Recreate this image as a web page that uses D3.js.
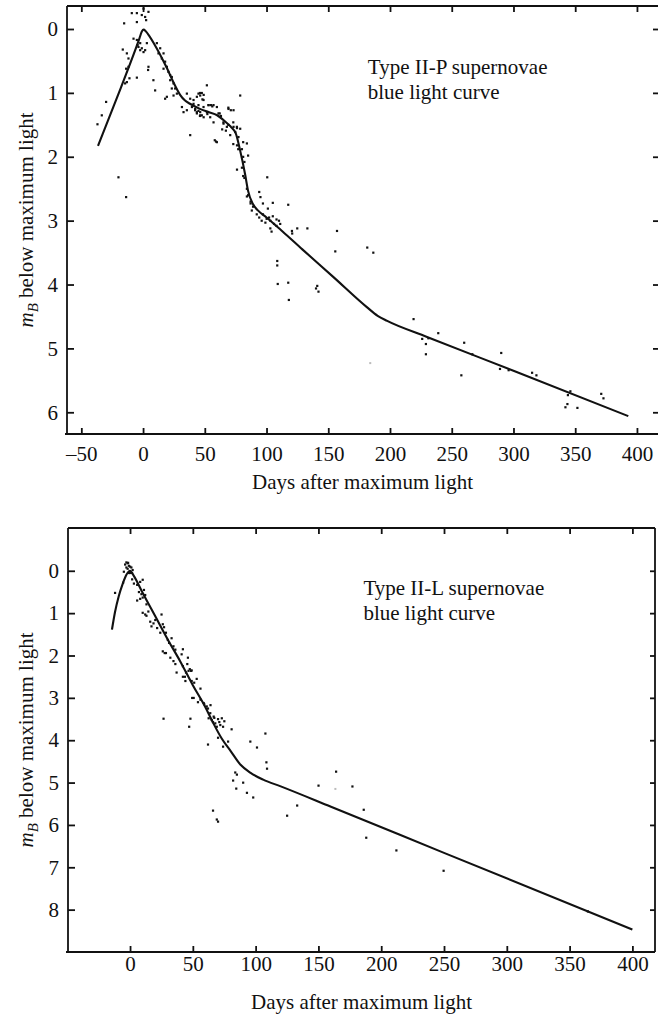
<!DOCTYPE html>
<html><head><meta charset="utf-8">
<script src="https://cdn.jsdelivr.net/npm/d3@7"></script>
<style>
body{margin:0;background:#fff;}
svg{display:block;font-family:"Liberation Serif","Times New Roman",serif;}
</style></head><body>
<svg id="c" width="658" height="1017"></svg>
<script>
// ---------- DATA ----------
const xTicksP = [-50,0,50,100,150,200,250,300,350,400];
const xTickLabelsP = ["–50","0","50","100","150","200","250","300","350","400"];
const yTicksP = [0,1,2,3,4,5,6];
const xTicksL = [0,50,100,150,200,250,300,350,400];
const xTickLabelsL = ["0","50","100","150","200","250","300","350","400"];
const yTicksL = [0,1,2,3,4,5,6,7,8];

const labelP = ["Type II-P supernovae","blue light curve"];
const labelL = ["Type II-L supernovae","blue light curve"];
const xTitle = "Days after maximum light";

// mean light curve, Type II-P: [days, mag below max]
const curveP = [[-36.5,1.83],[-18,0.92],[-6,0.31],[-3,0.15],[-1,0.04],[0.5,0.01],[2,0.03],[4,0.08],[11,0.3],[19,0.6],[24.5,0.83],[30,1.03],[34,1.12],[38,1.17],[46,1.25],[53,1.3],[60,1.35],[66,1.44],[70.5,1.52],[73,1.57],[75,1.63],[78.6,1.9],[82.6,2.27],[85,2.53],[89,2.74],[93,2.84],[100,2.95],[113,3.17],[129,3.45],[154,3.88],[181,4.35],[190,4.49],[197.7,4.57],[230,4.82],[300,5.35],[393,6.06]];

// observations, Type II-P
const obsP = [[-9.2,-0.25],[-5.1,-0.25],[-1.1,-0.22],[1.6,-0.19],[4.3,-0.27],[-5.1,-0.11],[0.3,-0.32],[2.4,-0.14],[-15.4,-0.09],[-16.5,0.32],[-13.2,0.38],[-11.9,0.46],
[-7.8,0.15],[-5.1,0.17],[-3.8,0.28],[-2.4,0.33],[-1.1,0.3],[0.3,0.36],[1.6,0.33],[3,0.22],[-2.4,0.22],[-4.5,0.25],[-13.8,0.62],[-11.9,0.59],[-11.1,0.77],[-13.2,0.83],[-14.6,0.85],[-5.1,0.76],[4.3,0.59],[4,0.64],[8.3,0.8],[9.7,0.96],[-30,1.14],[-33.5,1.35],[-37,1.49],[-20,2.32],[-13.8,2.63],
[11.1,0.22],[13.8,0.3],[12.4,0.38],[15.1,0.46],[16.5,0.38],[17.8,0.51],[19.2,0.59],[16.5,0.62],[20.5,0.67],[21.9,0.72],[23.2,0.75],[21.9,0.8],[24.6,0.85],[23.2,0.93],[25.9,0.93],[27.3,1.01],[24.6,1.04],[17.8,1.09],[19.2,1.06],
[35.4,1.01],[38.1,1.09],[40.8,1.11],[43.5,1.06],[46.2,1.04],[48.9,1.11],[51.6,0.88],[44.8,1.01],[47.5,1.0],[31.4,1.22],[32.7,1.3],[35.4,1.27],[39.5,1.22],[42.1,1.27],[43.5,1.32],[46.2,1.3],[47.5,1.35],[44.8,1.19],[40.8,1.17],[48.9,1.22],[52.9,1.19],[57,1.19],[59.7,1.22],[51.6,1.3],[54.3,1.38],[57,1.46],[61,1.32],[65.1,1.48],[67.8,1.53],[69.1,1.25],[73.2,1.27],[78.6,1.04],[73.2,1.53],[74.6,1.61],[70.5,1.66],[75.9,1.53],[78.6,1.56],[77.2,1.69],[38.1,1.66],[59.7,1.77],[42.1,1.25],[44.8,1.28],[46.2,1.35],[43.5,1.3],
[46,1.0],[48,1.1],[49,1.03],[53,1.19],[55,1.19],[56,1.21],[46,1.36],[49,1.38],[52,1.33],[62,1.32],[63,1.36],[69,1.23],[71,1.27],[65,1.46],[67,1.59],[64,1.57],[69,1.5],[73,1.46],[76,1.55],[58,1.74],[59,1.76],
[73,1.8],[76,1.82],[77,1.88],[81,1.77],[84,1.79],[80,1.88],[81,2.0],[82,2.08],[85,1.98],[76,2.2],[80,2.17],[81,2.3],[82,2.33],[100.5,2.32],[84,2.5],[85,2.6],[84,2.62],[87,2.7],[94,2.55],[95,2.63],[97,2.73],[87,2.73],[89,2.78],[88,2.84],[105,2.72],[117.5,2.75],[101,2.81],
[92,2.9],[94,2.95],[97,2.9],[100,2.97],[102,2.95],[105,2.93],[96,3.0],[99,3.03],[103,3.0],[108,2.98],[110,3.0],[111,3.05],[106,3.05],[108,3.08],[104,3.17],[103,3.12],[120.7,3.2],[124.8,3.12],[133,3.12],[120.5,3.16],
[108.6,3.63],[108.6,3.7],[109,3.99],[117.5,3.97],[118,4.24],[141,4.02],[142,4.11],[140,4.06],[157,3.16],[155.6,3.48],[181.5,3.42],[186.4,3.5],
[219,4.54],[226,4.85],[229,4.93],[229,5.09],[231,4.84],[239,4.76],[260,4.91],[257.7,5.42],[266.6,5.09],[290,5.07],[289,5.32],[296,5.34],[315,5.38],[318.5,5.42],[346,5.67],[344,5.73],[343.6,5.87],[342,5.92],[351.7,5.93],[371,5.71],[372.8,5.78]];

// mean light curve, Type II-L
const curveL = [[-14.4,1.39],[-12,0.98],[-9,0.6],[-6,0.32],[-3,0.1],[0,0],[3,0.12],[10,0.52],[20,1.07],[30,1.62],[40,2.14],[50,2.7],[60,3.22],[66,3.58],[73,3.96],[80,4.25],[88,4.58],[96,4.77],[106,4.93],[120,5.09],[160,5.57],[250,6.66],[400,8.47]];

// observations, Type II-L
const obsL = [[-4,-0.15],[-3,-0.2],[-2,-0.18],[-1,-0.12],[0,-0.1],[1,-0.08],[-3,-0.08],[-2,-0.05],[0,0.02],[1.5,0.05],[-1,0.05],[-5,0.02],[2,-0.02],[-1.6,-0.19],[0,0.05],
[-12,0.52],[-5.6,0.28],[1.6,0.2],[3,0.3],[5.6,0.33],[8,0.26],[10,0.21],[11,0.45],[12,0.57],[9,0.55],[7,0.5],[5.6,0.7],[8,0.66],[10,0.63],[13,0.79],[10,0.99],[13,1.06],[12,1.03],[14.5,0.96],
[16,1.2],[18.6,1.24],[17,1.31],[20,1.16],[21.5,1.35],[25,1.03],[26,1.26],[27,1.33],[28.5,1.46],[24,1.46],[30,1.63],[31,1.7],[33,1.59],[34.5,1.78],[36,1.86],[26,1.9],[27.5,1.94],[28.5,1.94],
[32,2.05],[34.5,2.13],[36,2.2],[37,2.4],[41,1.97],[42,2.25],[43.6,2.5],[44.5,2.4],[45.5,2.2],[46.5,2.36],[47.5,2.32],[48.5,2.36],[51,2.64],[42,1.85],[46,2.05],[49,2.35],[42,2.5],[44,2.6],[49,2.6],[53,2.55],
[49.4,3.0],[50.6,3.0],[56,2.78],[56,3.04],[58.6,3.12],[61,3.2],[63.8,3.36],[66.5,3.44],[62.5,3.48],[65,3.52],[67.8,3.6],[69,3.68],[71.8,3.64],[74,3.68],[80.8,3.74],[54,3.1],[59,3.15],[64,3.17],[62,3.25],[67,3.47],[70,3.5],[71,3.57],[73,3.48],[75,3.55],[66,3.57],
[26.6,3.49],[48,3.49],[47,3.68],[70,3.94],[62,4.1],[74,4.15],[78,4.03],[95.7,4.03],[101,4.17],[107.7,3.84],[108.5,4.52],[109,4.67],
[83.7,4.76],[85,4.81],[82,4.95],[84.5,5.14],[90,5.0],[93,5.24],[98,5.35],[66,5.66],[69,5.87],[70,5.92],[125,5.78],[133,5.54],[150,5.07],[164,4.74],[177,5.09],[186,5.64],[188,6.3],[212,6.6],[249.6,7.08],[364.5,8.04]];

// very faint marks
const faintP = [[184,5.23]];
const faintL = [[163.5,5.15]];

// ---------- DRAW ----------
const svg = d3.select("#c");

function yTitle(g, cx, cy) {
  const t = g.append("text")
    .attr("transform", `translate(${cx},${cy}) rotate(-90)`)
    .attr("text-anchor", "middle")
    .attr("font-size", 21).attr("fill", "#111");
  t.append("tspan").attr("font-style", "italic").text("m");
  t.append("tspan").attr("font-style", "italic").attr("font-size", 15).attr("dy", 5).text("B");
  t.append("tspan").attr("dy", -5).text(" below maximum light");
}

function panel(o) {
  const g = svg.append("g");
  const x = d3.scaleLinear().domain(o.xd).range(o.xr);
  const y = d3.scaleLinear().domain(o.yd).range(o.yr);
  const [L, R] = o.xr, [T, B] = o.yr;

  // frame
  const fr = g.append("g").attr("stroke", "#111").attr("stroke-width", 1.8).attr("fill", "none");
  fr.append("line").attr("x1", L).attr("x2", o.frameRight).attr("y1", T).attr("y2", T);
  fr.append("line").attr("x1", L - 2).attr("x2", o.frameRight).attr("y1", B).attr("y2", B);
  fr.append("line").attr("x1", L).attr("x2", L).attr("y1", T).attr("y2", B);
  if (o.rightLine) fr.append("line").attr("x1", o.frameRight).attr("x2", o.frameRight).attr("y1", T).attr("y2", B);

  const style = sel => {
    sel.select(".domain").remove();
    sel.selectAll(".tick line").attr("stroke", "#111").attr("stroke-width", 1.8);
    sel.selectAll(".tick text").attr("font-size", 21).attr("fill", "#111")
      .attr("font-family", '"Liberation Serif","Times New Roman",serif');
  };

  const xLab = new Map(o.xt.map((v, i) => [v, o.xl[i]]));
  g.append("g").attr("transform", `translate(0,${B})`)
    .call(d3.axisBottom(x).tickValues(o.xt).tickFormat(v => xLab.get(v)).tickSize(-6).tickPadding(o.xPad))
    .call(style);
  g.append("g").attr("transform", `translate(0,${T})`)
    .call(d3.axisTop(x).tickValues(o.xt).tickFormat("").tickSize(-6))
    .call(style);
  g.append("g").attr("transform", `translate(${L},0)`)
    .call(d3.axisLeft(y).tickValues(o.yt).tickFormat(d3.format("d")).tickSize(-7).tickPadding(9))
    .call(style);
  g.append("g").attr("transform", `translate(${o.frameRight},0)`)
    .call(d3.axisRight(y).tickValues(o.yt).tickFormat("").tickSize(-5))
    .call(style);

  // points
  g.append("g").selectAll("rect.f").data(o.faint).join("rect")
    .attr("x", d => x(d[0]) - 1).attr("y", d => y(d[1]) - 1)
    .attr("width", 2).attr("height", 2).attr("fill", "#bbb");
  g.append("g").selectAll("rect").data(o.obs).join("rect")
    .attr("x", d => x(d[0]) - 1).attr("y", d => y(d[1]) - 1)
    .attr("width", 2.2).attr("height", 2.2).attr("fill", "#111");

  // curve
  g.append("path").datum(o.curve)
    .attr("d", d3.line().x(d => x(d[0])).y(d => y(d[1])).curve(d3.curveMonotoneX))
    .attr("fill", "none").attr("stroke", "#111").attr("stroke-width", 2.1);

  // annotation
  const a = g.append("text").attr("font-size", 21).attr("fill", "#111")
    .attr("x", x(o.ann[0])).attr("y", y(o.ann[1]));
  o.label.forEach((s, i) => a.append("tspan").attr("x", x(o.ann[0])).attr("dy", i ? 25 : 0).text(s));

  // titles
  g.append("text").attr("x", (L + (o.frameRight)) / 2).attr("y", o.xTitleY)
    .attr("text-anchor", "middle").attr("font-size", 21).attr("fill", "#111").text(xTitle);
  yTitle(g, 33, (T + B) / 2);
}

panel({
  xd: [-61.6, 413], xr: [67, 653], yd: [-0.36, 6.34], yr: [6, 434],
  frameRight: 658, rightLine: false,
  xt: xTicksP, xl: xTickLabelsP, yt: yTicksP, xPad: 12,
  obs: obsP, faint: faintP, curve: curveP, label: labelP, ann: [182, 0.71],
  xTitleY: 489
});
panel({
  xd: [-49.4, 418], xr: [68, 655], yd: [-1.01, 9.0], yr: [528, 952],
  frameRight: 655, rightLine: true,
  xt: xTicksL, xl: xTickLabelsL, yt: yTicksL, xPad: 4,
  obs: obsL, faint: faintL, curve: curveL, label: labelL, ann: [185.8, 0.57],
  xTitleY: 1009
});
</script>
</body></html>
